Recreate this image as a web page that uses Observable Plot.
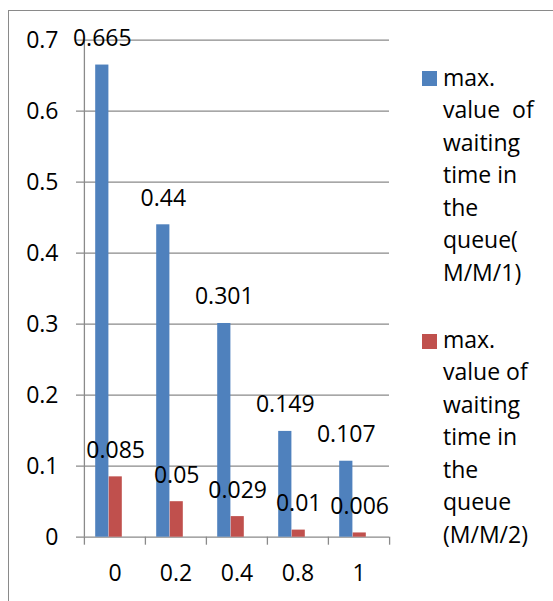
<!DOCTYPE html>
<html><head><meta charset="utf-8">
<script src="https://cdn.jsdelivr.net/npm/d3@7"></script>
<script src="https://cdn.jsdelivr.net/npm/@observablehq/plot@0.6"></script>
<style>
body{margin:0;background:#fff;font-family:"Open Sans",sans-serif;}
#wrap{position:relative;width:553px;height:601px;overflow:hidden;}
#chart{position:absolute;left:0;top:0;}
#border{position:absolute;left:8px;top:10px;width:700px;height:700px;border-left:1.5px solid #8a8a8a;border-top:1.5px solid #8a8a8a;pointer-events:none;}
.leg{position:absolute;left:422px;font-size:23px;line-height:32.5px;color:#000;white-space:pre;}
.sw{position:absolute;left:0;width:15px;height:15px;}
.lines{margin-left:21px;}
</style></head><body>
<div id="wrap"><div id="chart"></div><div id="border"></div><div id="legend"></div></div>
<script>
const categories = ["0", "0.2", "0.4", "0.8", "1"];
const seriesNames = ["M/M/1", "M/M/2"];
const mm1Values = [0.665, 0.44, 0.301, 0.149, 0.107];
const mm2Values = [0.085, 0.05, 0.029, 0.01, 0.006];
const yTicks = [0, 0.1, 0.2, 0.3, 0.4, 0.5, 0.6, 0.7];
const legendLines = [
  ["max.", "value  of", "waiting", "time in", "the", "queue(", "M/M/1)"],
  ["max.", "value of", "waiting", "time in", "the", "queue", "(M/M/2)"]
];
const colors = ["#4F81BD", "#C0504D"];

const rows1 = categories.map((c, i) => ({cat: c, series: seriesNames[0], value: mm1Values[i]}));
const rows2 = categories.map((c, i) => ({cat: c, series: seriesNames[1], value: mm2Values[i]}));

const W = 553, H = 601, mL = 83, mR = 164, mT = 39.7, mB = 64.3;
const bw = (W - mL - mR) / categories.length;
const grid = "#8a8a8a";

const chart = Plot.plot({
  width: W, height: H,
  marginLeft: mL, marginRight: mR, marginTop: mT, marginBottom: mB,
  style: {fontFamily: "Open Sans", fontSize: "23px", background: "transparent", overflow: "visible"},
  x: {domain: categories, padding: 0},
  y: {domain: [0, 0.7]},
  marks: [
    Plot.ruleY(yTicks, {stroke: grid, strokeWidth: 1.3, insetLeft: -7}),
    Plot.ruleX([categories[0]], {dx: -bw / 2, y1: 0, y2: 0.7, stroke: grid, strokeWidth: 1.3}),
    Plot.ruleX(categories, {x: d => d, y1: 0, y2: 0, insetBottom: -8, dx: -bw / 2, stroke: grid, strokeWidth: 1.3}),
    Plot.ruleX([categories[categories.length - 1]], {x: d => d, y1: 0, y2: 0, insetBottom: -8, dx: bw / 2, stroke: grid, strokeWidth: 1.3}),
    Plot.barY(rows1, {x: "cat", y: "value", fill: colors[0], insetLeft: 11.2, insetRight: 36.6}),
    Plot.barY(rows2, {x: "cat", y: "value", fill: colors[1], insetLeft: 24.7, insetRight: 23.2}),
    Plot.text(rows1, {x: "cat", y: "value", text: d => String(d.value), dx: -12.7, dy: -19, lineAnchor: "bottom", fontSize: 23, fill: "#000"}),
    Plot.text(rows2, {x: "cat", y: "value", text: d => String(d.value), dx: 0.7, dy: -19, lineAnchor: "bottom", fontSize: 23, fill: "#000"}),
    Plot.axisX({tickSize: 0, tickPadding: 27, fontSize: 23, label: null}),
    Plot.axisY({ticks: yTicks, tickFormat: d => String(d), tickSize: 0, tickPadding: 25, fontSize: 23, label: null})
  ]
});
document.getElementById("chart").appendChild(chart);

const legend = document.getElementById("legend");
const tops = [60.8, 322.8];
const swOff = [10.2, 11.2];
seriesNames.forEach((s, k) => {
  const block = document.createElement("div");
  block.className = "leg";
  block.style.top = tops[k] + "px";
  const sw = document.createElement("div");
  sw.className = "sw";
  sw.style.background = colors[k];
  sw.style.top = swOff[k] + "px";
  block.appendChild(sw);
  const lines = document.createElement("div");
  lines.className = "lines";
  legendLines[k].forEach(t => {
    const ln = document.createElement("div");
    ln.textContent = t;
    lines.appendChild(ln);
  });
  block.appendChild(lines);
  legend.appendChild(block);
});
</script>
</body></html>
